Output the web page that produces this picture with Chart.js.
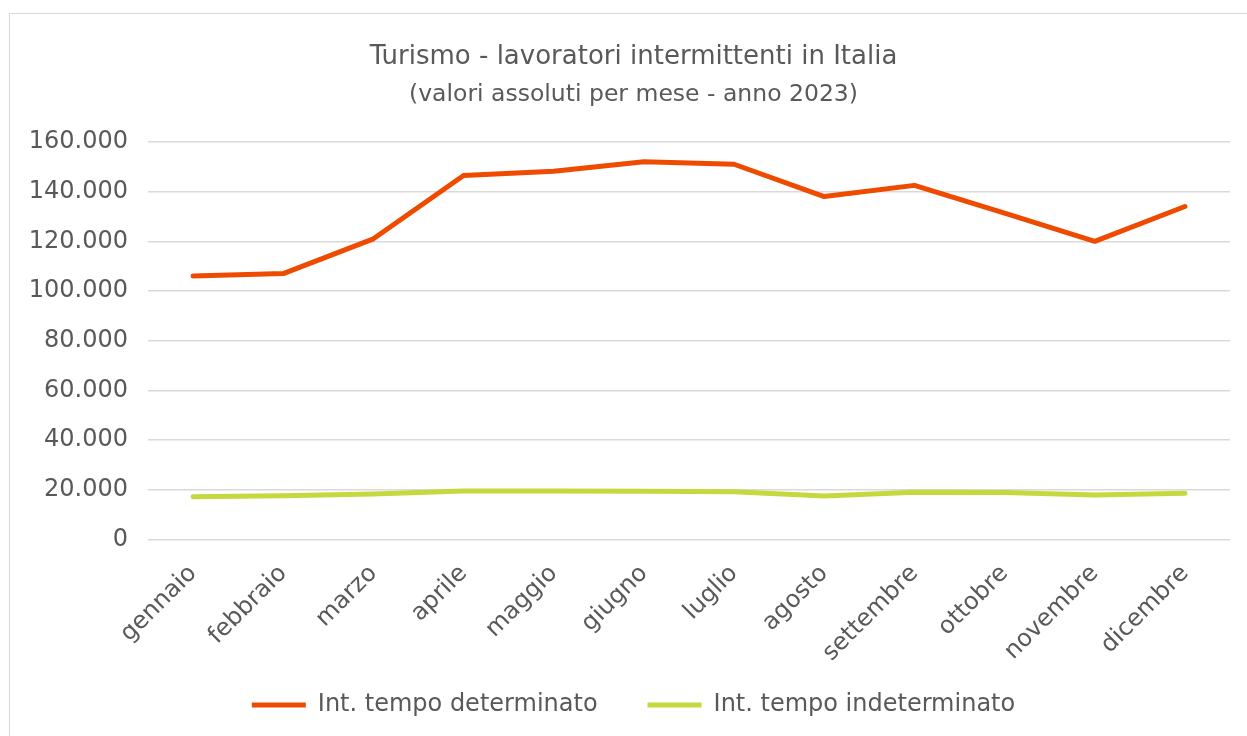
<!DOCTYPE html>
<html lang="it">
<head>
  <meta charset="UTF-8" />
  <title>Turismo - lavoratori intermittenti</title>
  <script src="https://cdn.jsdelivr.net/npm/chart.js"></script>
  <style>
    html, body { margin: 0; padding: 0; background: #fff; overflow: hidden; }
    #box {
      position: absolute; left: 9px; top: 13px;
      width: 1260px; height: 740px;
      border: 1px solid #d9d9d9;
    }
    #wrap { position: absolute; left: 0; top: 0; width: 1247px; height: 713px; }
  </style>
</head>
<body>
  <div id="box"><div id="wrap"><canvas id="chart"></canvas></div></div>

  <script>
    const mesi = ['gennaio', 'febbraio', 'marzo', 'aprile', 'maggio', 'giugno',
                  'luglio', 'agosto', 'settembre', 'ottobre', 'novembre', 'dicembre'];
    const tempoDeterminato = [106000, 107000, 121000, 146500, 148200, 152000,
                              151000, 138000, 142500, 131300, 120000, 134000];
    const tempoIndeterminato = [17200, 17600, 18300, 19500, 19500, 19400,
                                19200, 17500, 19000, 18900, 17900, 18600];
    const yTicks = [0, 20000, 40000, 60000, 80000, 100000, 120000, 140000, 160000];

    const grigio = '#595959';
    const font = 'DejaVu Sans, Verdana, sans-serif';

    function fmt(v) {
      return String(v).replace(/\B(?=(\d{3})+(?!\d))/g, '.');
    }

    // lascia spazio alle etichette ruotate sotto l'asse x (non tagliarle)
    const labelRoom = {
      id: 'labelRoom',
      afterLayout(chart) { chart.scales.x.bottom += 60; }
    };

    new Chart(document.getElementById('chart'), {
      type: 'line',
      data: {
        labels: mesi,
        datasets: [
          {
            label: 'Int. tempo determinato',
            data: tempoDeterminato,
            borderColor: '#ef4b00',
            backgroundColor: '#ef4b00',
            borderWidth: 5,
            borderCapStyle: 'round',
            borderJoinStyle: 'round',
            pointRadius: 0,
            tension: 0
          },
          {
            label: 'Int. tempo indeterminato',
            data: tempoIndeterminato,
            borderColor: '#c5d93e',
            backgroundColor: '#c5d93e',
            borderWidth: 5,
            borderCapStyle: 'round',
            borderJoinStyle: 'round',
            pointRadius: 0,
            tension: 0
          }
        ]
      },
      plugins: [labelRoom],
      options: {
        responsive: true,
        maintainAspectRatio: false,
        animation: false,
        layout: { padding: 0 },
        plugins: {
          title: {
            display: true,
            text: 'Turismo - lavoratori intermittenti in Italia',
            color: grigio,
            font: { family: font, size: 26, weight: 'normal' },
            padding: { top: 28, bottom: 8 }
          },
          subtitle: {
            display: true,
            text: '(valori assoluti per mese - anno 2023)',
            color: grigio,
            font: { family: font, size: 23.5, weight: 'normal' },
            padding: { top: 0, bottom: 32.5 }
          },
          legend: {
            position: 'bottom',
            labels: {
              color: grigio,
              font: { family: font, size: 24 },
              usePointStyle: true,
              pointStyle: 'line',
              pointStyleWidth: 54,
              padding: 50
            }
          },
          tooltip: { enabled: false }
        },
        scales: {
          x: {
            offset: true,
            grid: { display: false, offset: true },
            border: { display: false },
            ticks: {
              color: grigio,
              font: { family: font, size: 24 },
              minRotation: 45,
              maxRotation: 45,
              padding: 12
            },
            afterFit: (scale) => { scale.height = 103.5; }
          },
          y: {
            min: 0,
            max: 160000,
            grid: { color: '#d9d9d9', lineWidth: 1.5, drawTicks: false },
            border: { display: false },
            afterBuildTicks: (scale) => { scale.ticks = yTicks.map(v => ({ value: v })); },
            ticks: {
              color: grigio,
              font: { family: font, size: 24 },
              padding: 20,
              callback: (v) => fmt(v)
            },
            afterFit: (scale) => { scale.width = 138; }
          },
          destra: {
            position: 'right',
            grid: { display: false },
            border: { display: false },
            ticks: { display: false },
            afterFit: (scale) => { scale.width = 27; }
          }
        }
      }
    });
  </script>
</body>
</html>
